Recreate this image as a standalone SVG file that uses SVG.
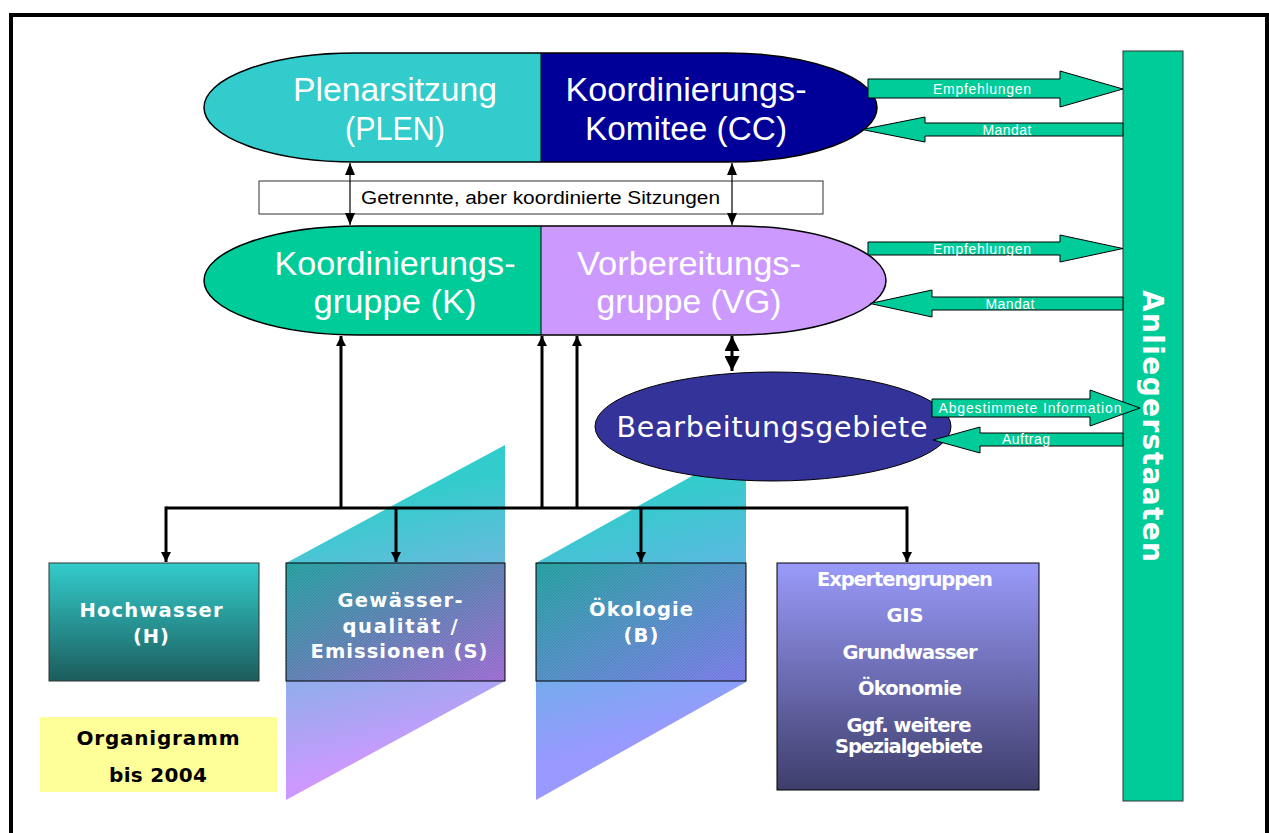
<svg xmlns="http://www.w3.org/2000/svg" width="1269" height="833" viewBox="0 0 1269 833">
<style>
.pilltxt{font-family:"Liberation Sans Narrow","Liberation Sans",sans-serif;font-size:34px;fill:#fff;text-anchor:middle}
.lbl{font-family:"Liberation Sans",Arial,sans-serif;font-size:14px;fill:#fff;text-anchor:middle}
.bold{font-family:"DejaVu Sans",Verdana,sans-serif;font-weight:bold;font-size:19.5px;fill:#fff;text-anchor:middle}
.garrow{fill:#00CC99;stroke:#000;stroke-width:1}
.conn{stroke:#000;stroke-width:3;fill:none}
.thin{stroke:#000;stroke-width:1.2;fill:none}
.outline{fill:none;stroke:#000;stroke-width:1.5}
</style>
<defs>
<linearGradient id="gP1" gradientUnits="userSpaceOnUse" x1="380" y1="500" x2="440" y2="750">
<stop offset="0" stop-color="#33CCCC"/><stop offset="1" stop-color="#CC99FF"/></linearGradient>
<linearGradient id="gP2" gradientUnits="userSpaceOnUse" x1="620" y1="500" x2="680" y2="730">
<stop offset="0" stop-color="#33CCCC"/><stop offset="1" stop-color="#9999FF"/></linearGradient>
<linearGradient id="gS" x1="0" y1="0" x2="1" y2="1">
<stop offset="0" stop-color="#2AA8A8"/><stop offset="0.5" stop-color="#6688BB"/><stop offset="1" stop-color="#A673DC"/></linearGradient>
<linearGradient id="gB" x1="0" y1="0" x2="1" y2="1">
<stop offset="0" stop-color="#2AA8A8"/><stop offset="0.5" stop-color="#5896CC"/><stop offset="1" stop-color="#8282F0"/></linearGradient>
<linearGradient id="gH" x1="0" y1="0" x2="0" y2="1">
<stop offset="0" stop-color="#33CCCC"/><stop offset="1" stop-color="#1C5C5C"/></linearGradient>
<linearGradient id="gE" x1="0" y1="0" x2="0" y2="1">
<stop offset="0" stop-color="#9A9AFA"/><stop offset="1" stop-color="#3E3E6C"/></linearGradient>
<pattern id="hatch" width="3" height="3" patternUnits="userSpaceOnUse">
<path d="M0,3 L3,0" stroke="#000" stroke-opacity="0.12" stroke-width="1"/></pattern>
<marker id="ah" viewBox="0 0 10 10" refX="10" refY="5" markerWidth="10" markerHeight="10" markerUnits="userSpaceOnUse" orient="auto-start-reverse">
<path d="M0,0 L10,5 L0,10 Z" fill="#000"/></marker>
<marker id="ahb" viewBox="0 0 10 10" refX="10" refY="5" markerWidth="5" markerHeight="5" orient="auto-start-reverse">
<path d="M0,0 L10,5 L0,10 Z" fill="#000"/></marker>
<marker id="aht" viewBox="0 0 12 10" refX="12" refY="5" markerWidth="12" markerHeight="10" markerUnits="userSpaceOnUse" orient="auto-start-reverse">
<path d="M0,0 L12,5 L0,10 Z" fill="#000"/></marker>
</defs>
<rect width="1269" height="833" fill="#fff"/>
<rect x="11" y="15" width="1256" height="832" fill="none" stroke="#000" stroke-width="4"/>

<!-- backdrop parallelograms -->
<polygon points="286,563 505,445 505,681 286,800" fill="url(#gP1)"/>
<polygon points="536,563 746,446 746,682 536,800" fill="url(#gP2)"/>

<g id="anliegerstaaten">
<rect x="1123" y="51" width="60" height="750" fill="#00CC99" stroke="#333" stroke-width="1"/>
<text transform="translate(1143,426) rotate(90)" font-family="DejaVu Sans,Verdana,sans-serif" font-weight="bold" font-size="28" fill="#fff" text-anchor="middle" textLength="272">Anliegerstaaten</text>
</g>

<g id="plen-cc">
<path d="M541,53 H355 A151,54.5 0 0 0 355,162 H541 Z" fill="#33CCCC"/>
<path d="M541,53 H727 A150,54.5 0 0 1 727,162 H541 Z" fill="#000099"/>
<path d="M355,53 H727 A150,54.5 0 0 1 727,162 H355 A151,54.5 0 0 1 355,53 Z" class="outline"/>
<line x1="541" y1="53" x2="541" y2="162" stroke="#000" stroke-width="1"/>
<text class="pilltxt" x="395" y="101" textLength="204" lengthAdjust="spacingAndGlyphs">Plenarsitzung</text>
<text class="pilltxt" x="395" y="140" textLength="100" lengthAdjust="spacingAndGlyphs">(PLEN)</text>
<text class="pilltxt" x="686" y="101" textLength="241" lengthAdjust="spacingAndGlyphs">Koordinierungs-</text>
<text class="pilltxt" x="686" y="140" textLength="202" lengthAdjust="spacingAndGlyphs">Komitee (CC)</text>
</g>

<g id="getrennte">
<rect x="259" y="181" width="564" height="33" fill="#fff" stroke="#333" stroke-width="1"/>
<text x="540.5" y="204" font-family="Liberation Sans Narrow,Liberation Sans,sans-serif" font-size="18" fill="#000" text-anchor="middle" textLength="359" lengthAdjust="spacingAndGlyphs">Getrennte, aber koordinierte Sitzungen</text>
</g>

<g id="k-vg">
<path d="M541,226 H360 A156,54.5 0 0 0 360,335 H541 Z" fill="#00CC99"/>
<path d="M541,226 H735 A151,54.5 0 0 1 735,335 H541 Z" fill="#CC99FF"/>
<path d="M360,226 H735 A151,54.5 0 0 1 735,335 H360 A156,54.5 0 0 1 360,226 Z" class="outline"/>
<line x1="541" y1="226" x2="541" y2="335" stroke="#000" stroke-width="1"/>
<text class="pilltxt" x="395" y="275" textLength="241" lengthAdjust="spacingAndGlyphs">Koordinierungs-</text>
<text class="pilltxt" x="395" y="313" textLength="163" lengthAdjust="spacingAndGlyphs">gruppe (K)</text>
<text class="pilltxt" x="689" y="275" textLength="224" lengthAdjust="spacingAndGlyphs">Vorbereitungs-</text>
<text class="pilltxt" x="689" y="313" textLength="185" lengthAdjust="spacingAndGlyphs">gruppe (VG)</text>
</g>

<g id="bearbeitungsgebiete">
<ellipse cx="773" cy="426.5" rx="178" ry="54.5" fill="#333399" stroke="#000" stroke-width="1"/>
<text x="772" y="437" font-family="DejaVu Sans,Verdana,sans-serif" font-size="28.5" fill="#fff" text-anchor="middle" textLength="311">Bearbeitungsgebiete</text>
</g>

<g id="side-arrows">
<polygon class="garrow" points="868,79 1060,79 1060,71 1123,89 1060,107 1060,98 868,98"/>
<text class="lbl" x="982" y="94" textLength="98">Empfehlungen</text>
<polygon class="garrow" points="1123,123 925,123 925,117 862,129.5 925,142 925,136 1123,136"/>
<text class="lbl" x="1007" y="135" textLength="49">Mandat</text>
<polygon class="garrow" points="868,242 1060,242 1060,235 1123,248.5 1060,262 1060,255 868,255"/>
<text class="lbl" x="982" y="254" textLength="98">Empfehlungen</text>
<polygon class="garrow" points="1123,297 932,297 932,290 870,303.5 932,317 932,310 1123,310"/>
<text class="lbl" x="1010" y="309" textLength="49">Mandat</text>
<polygon class="garrow" points="932,399 1090,399 1090,390 1140,408 1090,426 1090,417 932,417"/>
<text class="lbl" x="1030" y="413" textLength="183">Abgestimmete Information</text>
<polygon class="garrow" points="1123,433 980,433 980,427 933,440 980,453 980,446 1123,446"/>
<text class="lbl" x="1026" y="444" textLength="48">Auftrag</text>
</g>

<g id="hochwasser">
<rect x="49" y="563" width="210" height="118" fill="url(#gH)" stroke="#333" stroke-width="1"/>
<text class="bold" x="151" y="617" font-size="20.5" textLength="143">Hochwasser</text>
<text class="bold" x="151" y="643" font-size="20.5" textLength="36">(H)</text>
</g>

<g id="gewaesser">
<rect x="286" y="563" width="219" height="118" fill="url(#gS)"/>
<rect x="286" y="563" width="219" height="118" fill="url(#hatch)" stroke="#000" stroke-width="1"/>
<text class="bold" x="400" y="607" textLength="125">Gewässer-</text>
<text class="bold" x="400" y="633" textLength="115">qualität /</text>
<text class="bold" x="399" y="658" font-size="19" textLength="177">Emissionen (S)</text>
</g>

<g id="oekologie">
<rect x="536" y="563" width="210" height="118" fill="url(#gB)"/>
<rect x="536" y="563" width="210" height="118" fill="url(#hatch)" stroke="#000" stroke-width="1"/>
<text class="bold" x="641" y="616" font-size="20.5" textLength="104">Ökologie</text>
<text class="bold" x="641" y="642" font-size="20.5" textLength="35">(B)</text>
</g>

<g id="expertengruppen">
<rect x="777" y="563" width="262" height="227" fill="url(#gE)" stroke="#000" stroke-width="1"/>
<text class="bold" x="905" y="586" font-size="17.5" textLength="176">Expertengruppen</text>
<text class="bold" x="905" y="622" font-size="17.5" textLength="37">GIS</text>
<text class="bold" x="910" y="659" font-size="17.5" textLength="135">Grundwasser</text>
<text class="bold" x="910" y="695" font-size="17.5" textLength="104">Ökonomie</text>
<text class="bold" x="909" y="732" font-size="17.5" textLength="125">Ggf. weitere</text>
<text class="bold" x="909" y="753" font-size="17.5" textLength="148">Spezialgebiete</text>
</g>

<g id="organigramm">
<rect x="40" y="717" width="237" height="75" fill="#FFFF99"/>
<text x="158" y="745" font-family="DejaVu Sans,Verdana,sans-serif" font-weight="bold" font-size="20" fill="#000" text-anchor="middle" textLength="163">Organigramm</text>
<text x="158" y="782" font-family="DejaVu Sans,Verdana,sans-serif" font-weight="bold" font-size="20" fill="#000" text-anchor="middle" textLength="98">bis 2004</text>
</g>

<g id="connectors">
<line class="thin" x1="350" y1="163" x2="350" y2="225" marker-start="url(#aht)" marker-end="url(#aht)"/>
<line class="thin" x1="732" y1="163" x2="732" y2="225" marker-start="url(#aht)" marker-end="url(#aht)"/>
<line class="conn" x1="732" y1="336" x2="732" y2="371" marker-start="url(#ahb)" marker-end="url(#ahb)"/>
<polyline class="conn" points="166,508 907,508"/>
<line class="conn" x1="341" y1="508" x2="341" y2="336" marker-end="url(#ah)"/>
<line class="conn" x1="542" y1="508" x2="542" y2="336" marker-end="url(#ah)"/>
<line class="conn" x1="577" y1="508" x2="577" y2="336" marker-end="url(#ah)"/>
<polyline class="conn" points="166,506.5 166,562" marker-end="url(#ah)"/>
<line class="conn" x1="396" y1="508" x2="396" y2="562" marker-end="url(#ah)"/>
<line class="conn" x1="641" y1="508" x2="641" y2="562" marker-end="url(#ah)"/>
<line class="conn" x1="907" y1="506.5" x2="907" y2="562" marker-end="url(#ah)"/>
</g>
</svg>
